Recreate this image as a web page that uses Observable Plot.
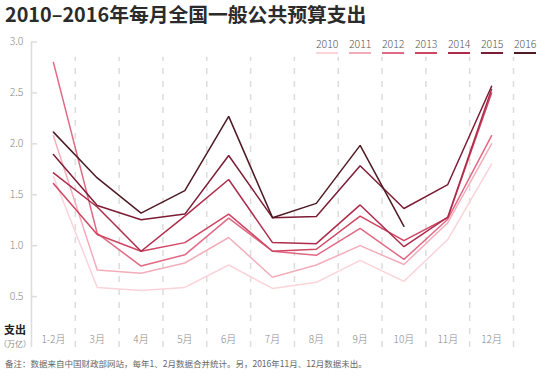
<!DOCTYPE html>
<html><head><meta charset="utf-8">
<script src="https://cdn.jsdelivr.net/npm/d3@7"></script>
<script src="https://cdn.jsdelivr.net/npm/@observablehq/plot@0.6"></script>
<style>
body{margin:0;background:#fff;font-family:"Noto Sans CJK SC","Noto Sans",sans-serif;}
#wrap{position:relative;width:546px;height:376px;overflow:hidden;background:#fff;}
#title{position:absolute;left:5px;top:0;font-size:19.8px;font-weight:bold;color:#2b2b2b;line-height:28px;white-space:nowrap;}
#chart{position:absolute;left:0;top:28px;}
#legend{position:absolute;left:0;top:0;}
.li{position:absolute;top:38px;font-size:10.5px;line-height:12px;color:#555;padding-bottom:2px;border-bottom:2px solid;font-weight:300;}
#ylab{position:absolute;left:4px;top:323px;font-size:11px;font-weight:bold;color:#222;line-height:13px;}
#yunit{position:absolute;left:-1px;top:339px;font-size:8px;color:#888;line-height:9px;white-space:nowrap;}
#note{position:absolute;left:5px;top:352px;font-size:8.5px;color:#666;line-height:22px;white-space:nowrap;}
</style></head>
<body>
<div id="wrap">
  <div id="title">2010–2016年每月全国一般公共预算支出</div>
  <div id="chart"></div>
  <div id="legend"></div>
  <div id="ylab">支出</div>
  <div id="yunit">（万亿）</div>
  <div id="note">备注：数据来自中国财政部网站，每年1、2月数据合并统计。另，2016年11月、12月数据未出。</div>
</div>
<script>
const months = ["1-2月","3月","4月","5月","6月","7月","8月","9月","10月","11月","12月"];
const years = ["2010","2011","2012","2013","2014","2015","2016"];
const colors = ["#fbd3d9","#f3adba","#e06a85","#cf4562","#ad2c4b","#7d1c35","#4e1a24"];
const yTicks = [0.5, 1.0, 1.5, 2.0, 2.5, 3.0];

const v2010 = [1.68, 0.59, 0.56, 0.59, 0.81, 0.58, 0.64, 0.855, 0.65, 1.06, 1.80];
const v2011 = [2.08, 0.76, 0.73, 0.83, 1.08, 0.69, 0.81, 1.00, 0.815, 1.225, 2.00];
const v2012 = [2.80, 1.12, 0.80, 0.91, 1.27, 0.945, 0.905, 1.17, 0.865, 1.26, 2.08];
const v2013 = [1.61, 1.11, 0.945, 1.03, 1.31, 0.945, 0.965, 1.29, 1.05, 1.275, 2.50];
const v2014 = [1.715, 1.38, 0.945, 1.29, 1.65, 1.03, 1.02, 1.40, 0.99, 1.28, 2.535];
const v2015 = [1.895, 1.395, 1.255, 1.31, 1.885, 1.275, 1.287, 1.785, 1.365, 1.60, 2.565];
const v2016 = [2.115, 1.665, 1.32, 1.54, 2.27, 1.275, 1.415, 1.985, 1.19];
const series = [v2010, v2011, v2012, v2013, v2014, v2015, v2016];

const data = series.flatMap((vals, k) => vals.map((v, i) => ({year: years[k], i, v})));

const plot = Plot.plot({
  width: 546, height: 324,
  marginLeft: 31, marginRight: 33, marginTop: 13.5, marginBottom: 5,
  x: {type: "linear", domain: [-0.5, months.length - 0.5], axis: null},
  y: {domain: [0, 3], axis: null},
  color: {domain: years, range: colors},
  style: {fontFamily: '"Noto Sans CJK SC","Noto Sans",sans-serif', background: "#fff"},
  marks: [
    Plot.ruleX(months.map((_, i) => i + 0.5), {y1: 0, y2: 2.85, stroke: "#dcdcdc", strokeWidth: 1.5, strokeDasharray: "6,7"}),
    Plot.ruleX([-0.5], {y1: 0, y2: 3, stroke: "#dcdcdc", strokeWidth: 1.5}),
    Plot.axisY({ticks: yTicks, label: null, tickFormat: d => d.toFixed(1), tickSize: 6, dx: 6, tickPadding: 8, stroke: "#dcdcdc", strokeWidth: 1.5, fill: "#888", fontSize: 10.5, fontWeight: 300}),
    Plot.axisX({ticks: d3.range(months.length), label: null, tickFormat: i => months[i], tickSize: 0, tickPadding: 0, dy: -12, fill: "#888", fontSize: 10, fontWeight: 300}),
    Plot.line(data, {x: "i", y: "v", z: "year", stroke: "year", strokeWidth: 1.5, strokeLinejoin: "miter"})
  ]
});
document.getElementById("chart").appendChild(plot);

const legend = document.getElementById("legend");
years.forEach((y, k) => {
  const d = document.createElement("div");
  d.className = "li";
  d.textContent = y;
  d.style.left = (316 + k * 33) + "px";
  d.style.borderBottomColor = colors[k];
  legend.appendChild(d);
});
</script>
</body></html>
